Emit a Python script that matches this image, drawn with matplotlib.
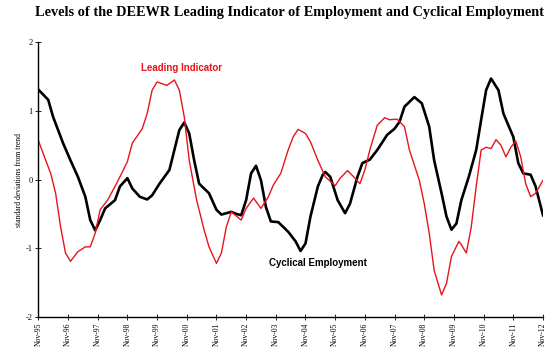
import matplotlib
matplotlib.use("Agg")
import matplotlib.pyplot as plt

# Months since Nov-1995 and values (standard deviations from trend)
cyc_months = [0, 4, 6, 8, 10, 13, 16, 19, 21, 23, 25, 27, 31, 33, 36, 38, 41, 44,
              46, 49, 53, 55, 57, 59, 61, 63, 65, 67, 69, 72, 74, 78, 80, 82, 84,
              86, 88, 90, 92, 94, 97, 99, 101, 104, 106, 108, 110, 113, 115, 116,
              118, 121, 124, 126, 129, 131, 134, 137, 141, 144, 146, 148, 152, 155,
              158, 160, 163, 165, 167, 169, 171, 174, 177, 179, 181, 183, 186, 188,
              192, 194, 196, 199, 201, 204]
cyc_values = [1.31, 1.16, 0.91, 0.72, 0.53, 0.28, 0.04, -0.25, -0.59, -0.74, -0.59,
              -0.42, -0.30, -0.10, 0.02, -0.13, -0.25, -0.29, -0.23, -0.06, 0.14,
              0.43, 0.72, 0.83, 0.67, 0.28, -0.06, -0.13, -0.20, -0.44, -0.51, -0.47,
              -0.50, -0.52, -0.30, 0.09, 0.20, -0.01, -0.40, -0.61, -0.62, -0.69,
              -0.76, -0.90, -1.04, -0.93, -0.54, -0.10, 0.07, 0.11, 0.04, -0.30,
              -0.49, -0.35, 0.04, 0.24, 0.29, 0.43, 0.65, 0.74, 0.84, 1.06, 1.20,
              1.11, 0.77, 0.28, -0.20, -0.54, -0.73, -0.64, -0.30, 0.04, 0.43, 0.87,
              1.30, 1.47, 1.30, 0.96, 0.62, 0.24, 0.09, 0.07, -0.10, -0.52]

lead_months = [0, 3, 5, 7, 9, 11, 13, 16, 19, 21, 23, 25, 28, 31, 33, 36, 38, 42,
               44, 46, 48, 52, 55, 57, 59, 61, 64, 67, 69, 72, 74, 76, 78, 80, 82,
               84, 87, 90, 93, 95, 98, 101, 103, 105, 108, 110, 113, 116, 120, 122,
               125, 128, 130, 132, 134, 137, 140, 142, 145, 148, 150, 154, 156, 158,
               160, 163, 165, 167, 170, 171, 173, 175, 177, 179, 181, 183, 185, 187,
               189, 191, 193, 195, 197, 199, 201, 204]
lead_values = [0.57, 0.28, 0.09, -0.20, -0.69, -1.07, -1.19, -1.05, -0.98, -0.98,
               -0.78, -0.44, -0.30, -0.10, 0.04, 0.26, 0.53, 0.74, 0.96, 1.30, 1.42,
               1.37, 1.45, 1.30, 0.91, 0.28, -0.30, -0.73, -0.98, -1.22, -1.07, -0.69,
               -0.47, -0.53, -0.59, -0.42, -0.27, -0.42, -0.25, -0.08, 0.09, 0.43,
               0.62, 0.73, 0.67, 0.55, 0.28, 0.04, -0.09, 0.02, 0.13, 0.02, -0.06,
               0.14, 0.43, 0.79, 0.90, 0.87, 0.88, 0.77, 0.43, -0.01, -0.35, -0.78,
               -1.32, -1.68, -1.51, -1.12, -0.90, -0.95, -1.07, -0.69, -0.10, 0.43,
               0.47, 0.45, 0.58, 0.50, 0.33, 0.47, 0.56, 0.33, -0.06, -0.25, -0.20,
               -0.01]

tick_months = list(range(0, 205, 12))
tick_labels = ["Nov-%02d" % ((95 + i) % 100) for i in range(len(tick_months))]

fig = plt.figure(figsize=(5.52, 3.51), dpi=100)
ax = fig.add_axes([0.0694, 0.097, 0.9143, 0.783])

ax.plot(cyc_months, cyc_values, color="black", lw=1.9, solid_joinstyle="round")
ax.plot(lead_months, lead_values, color="#e8141c", lw=1.0, solid_joinstyle="round")

ax.set_xlim(0, 204)
ax.set_ylim(-2, 2)
ax.set_yticks([-2, -1, 0, 1, 2])
ax.set_yticklabels(["-2", "-1", "0", "1", "2"], family="Liberation Serif", fontsize=6)
ax.set_xticks(tick_months)
ax.set_xticklabels(tick_labels, rotation=90, family="Liberation Serif", fontsize=5.5)
ax.tick_params(direction="inout", length=4, width=0.6, pad=2)

for side in ["top", "right"]:
    ax.spines[side].set_visible(False)
for side in ["left", "bottom"]:
    ax.spines[side].set_linewidth(1.0)

ax.set_ylabel("standard deviations from trend", family="Liberation Serif",
              fontsize=5.5, labelpad=2)

ax.text(58, 1.62, "Leading Indicator", color="#e8141c", fontsize=7,
        fontweight="bold", family="Liberation Sans", ha="center", va="center")
ax.text(113, -1.21, "Cyclical Employment", color="black", fontsize=7,
        fontweight="bold", family="Liberation Sans", ha="center", va="center")

fig.text(0.525, 0.965, "Levels of the DEEWR Leading Indicator of Employment and Cyclical Employment",
         family="Liberation Serif", fontweight="bold", fontsize=10.3,
         ha="center", va="center")

fig.savefig("out.png", dpi=100)
